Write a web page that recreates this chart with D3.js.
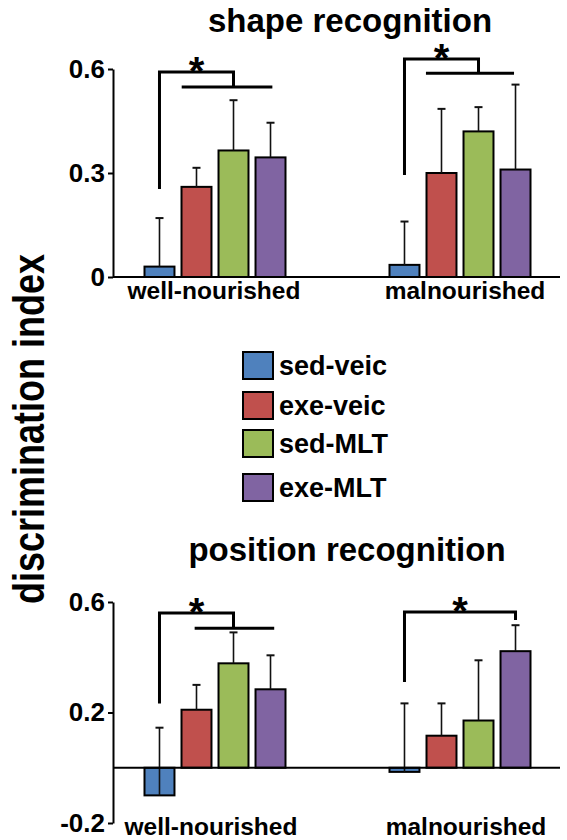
<!DOCTYPE html>
<html>
<head>
<meta charset="utf-8">
<script src="https://cdn.jsdelivr.net/npm/d3@7"></script>
<style>
  body { margin: 0; background: #fff; }
  svg { display: block; font-family: "Liberation Sans", Arial, sans-serif; font-weight: bold; }
</style>
</head>
<body>
<svg id="svg" width="567" height="840"></svg>
<script>
// groups and series
var groups = ["well-nourished", "malnourished"];
var series = ["sed-veic", "exe-veic", "sed-MLT", "exe-MLT"];
var colors = ["#4f81bd", "#c0504d", "#9bbb59", "#8064a2"];

// shape recognition: means and top of error bar
var shapeMean  = [[0.03, 0.26, 0.365, 0.345], [0.035, 0.30, 0.42, 0.31]];
var shapeUpper = [[0.17, 0.315, 0.51, 0.445], [0.16, 0.485, 0.49, 0.555]];
var shapeTicks = [0, 0.3, 0.6];

// position recognition
var posMean  = [[-0.10, 0.21, 0.378, 0.284], [-0.015, 0.116, 0.171, 0.422]];
var posUpper = [[0.145, 0.30, 0.49, 0.407], [0.233, 0.233, 0.389, 0.516]];
var posTicks = [-0.2, 0.2, 0.6];

// significance brackets (values in data units, series positions as index)
var shapeSig = [
  { group: 0, from: 0, to: 2, low: 0.254, high: 0.591, drop: 0.548, lineFrom: 0.6, lineTo: 3.05 },
  { group: 1, from: 0, to: 2, low: 0.294, high: 0.629, drop: 0.588, lineFrom: 0.58, lineTo: 2.96 }
];
var posSig = [
  { group: 0, from: 0, to: 2, low: 0.233, high: 0.56, drop: 0.505, lineFrom: 0.95, lineTo: 3.1 },
  { group: 1, from: 0, to: 3, low: 0.31, high: 0.564, drop: 0.535, lineFrom: null, lineTo: null }
];

var svg = d3.select("svg");
var axisX = 113;
var lineEnd = 560;

// x scales: group centers + inner band for the 4 bars
var xGroup = d3.scalePoint().domain(groups).range([215, 460]);
var xInner = d3.scaleBand().domain(series).range([-70.5, 70.5]).paddingInner(0.19);
var step = xInner.step();

function seriesCenter(g, i) {
  return xGroup(groups[g]) + xInner(series[0]) + i * step + xInner.bandwidth() / 2;
}

function fmt(d) {
  if (d === 0) return "0";
  return (d < 0 ? "-" : "") + Math.abs(d).toFixed(1);
}

function drawPanel(opts) {
  var y = d3.scaleLinear().domain(opts.domain).range(opts.range);
  var g = svg.append("g");

  // title
  g.append("text")
    .attr("x", opts.titleX).attr("y", opts.titleY)
    .attr("text-anchor", "middle")
    .style("font-size", "33px")
    .text(opts.title);

  // y axis
  var ax = g.append("g")
    .attr("transform", "translate(" + axisX + ",0)")
    .call(d3.axisLeft(y).tickValues(opts.ticks).tickSize(5).tickSizeOuter(0).tickPadding(3).tickFormat(fmt));
  ax.select(".domain").attr("stroke", "#000").attr("stroke-width", 2);
  ax.selectAll(".tick line").attr("stroke", "#000").attr("stroke-width", 2);
  ax.selectAll(".tick text")
    .attr("fill", "#000")
    .style("font-size", "26px")
    .style("font-family", "Liberation Sans, Arial, sans-serif")
    .style("font-weight", "bold");

  // bars
  for (var gi = 0; gi < groups.length; gi++) {
    var bars = g.append("g");
    series.forEach(function (s, i) {
      var v = opts.mean[gi][i];
      var x = xGroup(groups[gi]) + xInner(s);
      var cx = x + xInner.bandwidth() / 2;
      bars.append("rect")
        .attr("x", x)
        .attr("y", y(Math.max(0, v)))
        .attr("width", xInner.bandwidth())
        .attr("height", Math.abs(y(v) - y(0)))
        .attr("fill", colors[i])
        .attr("stroke", "#000")
        .attr("stroke-width", 2);
      // upper error bar
      var up = opts.upper[gi][i];
      bars.append("line")
        .attr("x1", cx).attr("x2", cx)
        .attr("y1", y(v)).attr("y2", y(up))
        .attr("stroke", "#111").attr("stroke-width", 1.6);
      bars.append("line")
        .attr("x1", cx - 4).attr("x2", cx + 4)
        .attr("y1", y(up)).attr("y2", y(up))
        .attr("stroke", "#111").attr("stroke-width", 2);
    });
    // category label
    g.append("text")
      .attr("x", xGroup(groups[gi]) + opts.labelDx[gi])
      .attr("y", opts.labelY)
      .attr("text-anchor", "middle")
      .style("font-size", "24.5px")
      .text(groups[gi]);
  }

  // zero / baseline
  g.append("line")
    .attr("x1", axisX).attr("x2", lineEnd)
    .attr("y1", y(0)).attr("y2", y(0))
    .attr("stroke", "#000").attr("stroke-width", 2);

  // significance brackets
  opts.sig.forEach(function (b) {
    var x1 = seriesCenter(b.group, b.from);
    var x2 = seriesCenter(b.group, b.to);
    var path = "M" + x1 + "," + y(b.low) + "V" + y(b.high) + "H" + x2 + "V" + y(b.drop);
    g.append("path").attr("d", path)
      .attr("fill", "none").attr("stroke", "#000").attr("stroke-width", 3);
    if (b.lineFrom !== null) {
      g.append("line")
        .attr("x1", seriesCenter(b.group, b.lineFrom))
        .attr("x2", seriesCenter(b.group, b.lineTo))
        .attr("y1", y(b.drop)).attr("y2", y(b.drop))
        .attr("stroke", "#000").attr("stroke-width", 3);
    }
    g.append("text")
      .attr("x", (x1 + x2) / 2)
      .attr("y", y(b.high) + 13)
      .attr("text-anchor", "middle")
      .style("font-size", "40px")
      .text("*");
  });
}

drawPanel({
  title: "shape recognition", titleX: 350, titleY: 32,
  domain: [0, 0.6], range: [277, 69], ticks: shapeTicks,
  mean: shapeMean, upper: shapeUpper, sig: shapeSig,
  labelY: 299, labelDx: [-1, 5]
});

drawPanel({
  title: "position recognition", titleX: 347, titleY: 561,
  domain: [-0.2, 0.6], range: [823, 602], ticks: posTicks,
  mean: posMean, upper: posUpper, sig: posSig,
  labelY: 835, labelDx: [-4, 6]
});

// legend
var legend = svg.append("g").attr("transform", "translate(243,352)");
var legendY = [0, 40, 78, 122];
series.forEach(function (s, i) {
  legend.append("rect")
    .attr("x", 0).attr("y", legendY[i])
    .attr("width", 30).attr("height", 27)
    .attr("fill", colors[i])
    .attr("stroke", "#000").attr("stroke-width", 2);
  legend.append("text")
    .attr("x", 36).attr("y", legendY[i] + 23)
    .style("font-size", "27px")
    .text(s);
});

// y axis title (a little stretched, like the original)
svg.append("text")
  .attr("transform", "translate(44,429) rotate(-90) scale(1,1.25)")
  .attr("text-anchor", "middle")
  .style("font-size", "36px")
  .text("discrimination index");
</script>
</body>
</html>
